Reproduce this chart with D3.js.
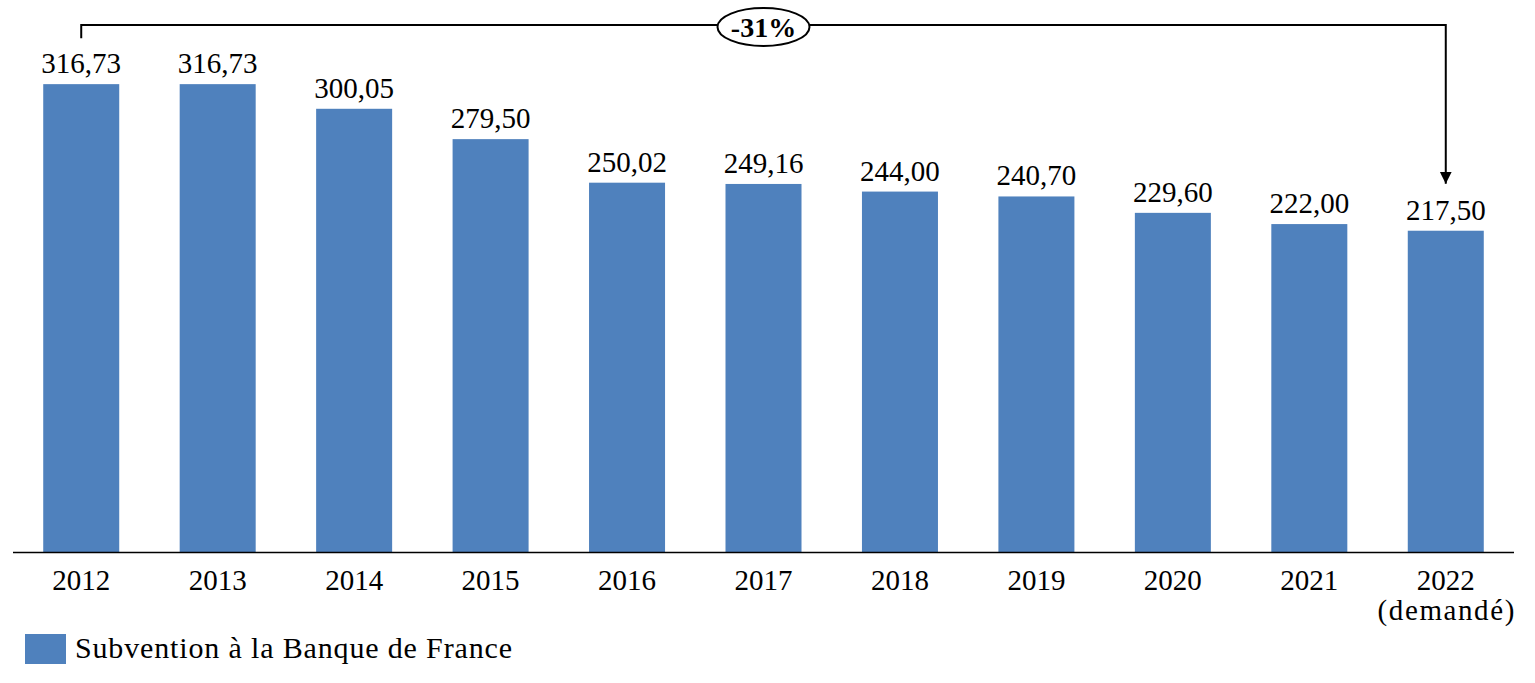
<!DOCTYPE html>
<html>
<head>
<meta charset="utf-8">
<script src="https://cdn.jsdelivr.net/npm/d3@7"></script>
<style>
  body{margin:0;background:#fff;}
  svg{display:block;font-family:"Liberation Serif","Times New Roman",serif;}
</style>
</head>
<body>
<div id="chart"></div>
<script>
const years=["2012","2013","2014","2015","2016","2017","2018","2019","2020","2021","2022"];
const yearNotes=["","","","","","","","","","","(demandé)"];
const values=[316.73,316.73,300.05,279.50,250.02,249.16,244.00,240.70,229.60,222.00,217.50];
const seriesName="Subvention à la Banque de France";
const changeLabel="-31%";

(function(){
  const ink="#000", blue="#4f81bd";
  const W=1535,H=683;
  const svg=d3.select("#chart").append("svg").attr("width",W).attr("height",H);
  const data=years.map((y,i)=>({year:y,note:yearNotes[i],value:values[i]}));
  const fmt=v=>d3.format(".2f")(v).replace(".",",");

  const x=d3.scaleBand().domain(years).range([13,1514]).paddingInner(.443).paddingOuter(.2215);
  const y=d3.scaleLinear().domain([0,350]).range([552,35]);

  svg.selectAll(".bar").data(data).join("rect")
    .attr("x",d=>x(d.year)).attr("y",d=>y(d.value))
    .attr("width",x.bandwidth()).attr("height",d=>y(0)-y(d.value))
    .attr("fill",blue);

  svg.selectAll(".val").data(data).join("text")
    .attr("x",d=>x(d.year)+x.bandwidth()/2).attr("y",d=>y(d.value)-11)
    .attr("text-anchor","middle").attr("font-size",29).attr("fill",ink)
    .text(d=>fmt(d.value));

  // axis
  svg.append("g").attr("transform",`translate(0,${y(0)})`)
    .call(d3.axisBottom(x).tickSize(0).tickPadding(0))
    .call(s=>s.select(".domain").attr("stroke",ink).attr("stroke-width",1.5).attr("d","M13,0.5H1514"))
    .call(s=>s.selectAll(".tick text").remove());

  const lab=svg.selectAll(".yr").data(data).join("text")
    .attr("text-anchor","middle").attr("font-size",29).attr("fill",ink)
    .attr("x",d=>x(d.year)+x.bandwidth()/2).attr("y",y(0)+38);
  lab.append("tspan").attr("x",d=>x(d.year)+x.bandwidth()/2).text(d=>d.year);
  lab.filter(d=>d.note).append("tspan").attr("x",d=>x(d.year)+x.bandwidth()/2+1).attr("dy",30)
    .attr("letter-spacing",1.6).text(d=>d.note);

  // bracket with arrow
  const first=data[0], last=data[data.length-1];
  const x1=x(first.year)+x.bandwidth()/2, x2=x(last.year)+x.bandwidth()/2;
  const top=25, y1=y(first.value)-46, y2=y(last.value)-47;
  svg.append("defs").append("marker").attr("id","arr")
    .attr("viewBox","0 0 10 10").attr("refX",10).attr("refY",5)
    .attr("markerWidth",6).attr("markerHeight",7).attr("markerUnits","strokeWidth").attr("orient","auto")
    .append("path").attr("d","M0,0L10,5L0,10Z").attr("fill",ink);
  svg.append("path")
    .attr("d",`M${x1},${y1}V${top}H${x2}V${y2}`)
    .attr("fill","none").attr("stroke",ink).attr("stroke-width",2)
    .attr("marker-end","url(#arr)");

  const cx=(x1+x2)/2;
  svg.append("ellipse").attr("cx",cx).attr("cy",27).attr("rx",46).attr("ry",19)
    .attr("fill","#fff").attr("stroke",ink).attr("stroke-width",2);
  svg.append("text").attr("x",cx).attr("y",37).attr("text-anchor","middle")
    .attr("font-size",28).attr("font-weight","bold").attr("fill",ink).text(changeLabel);

  // legend
  const lg=svg.append("g").attr("transform","translate(25,634)");
  lg.append("rect").attr("width",41).attr("height",30).attr("fill",blue);
  lg.append("text").attr("x",50).attr("y",24).attr("font-size",30).attr("fill",ink)
    .attr("textLength",437).attr("lengthAdjust","spacing").text(seriesName);
})();
</script>
</body>
</html>
